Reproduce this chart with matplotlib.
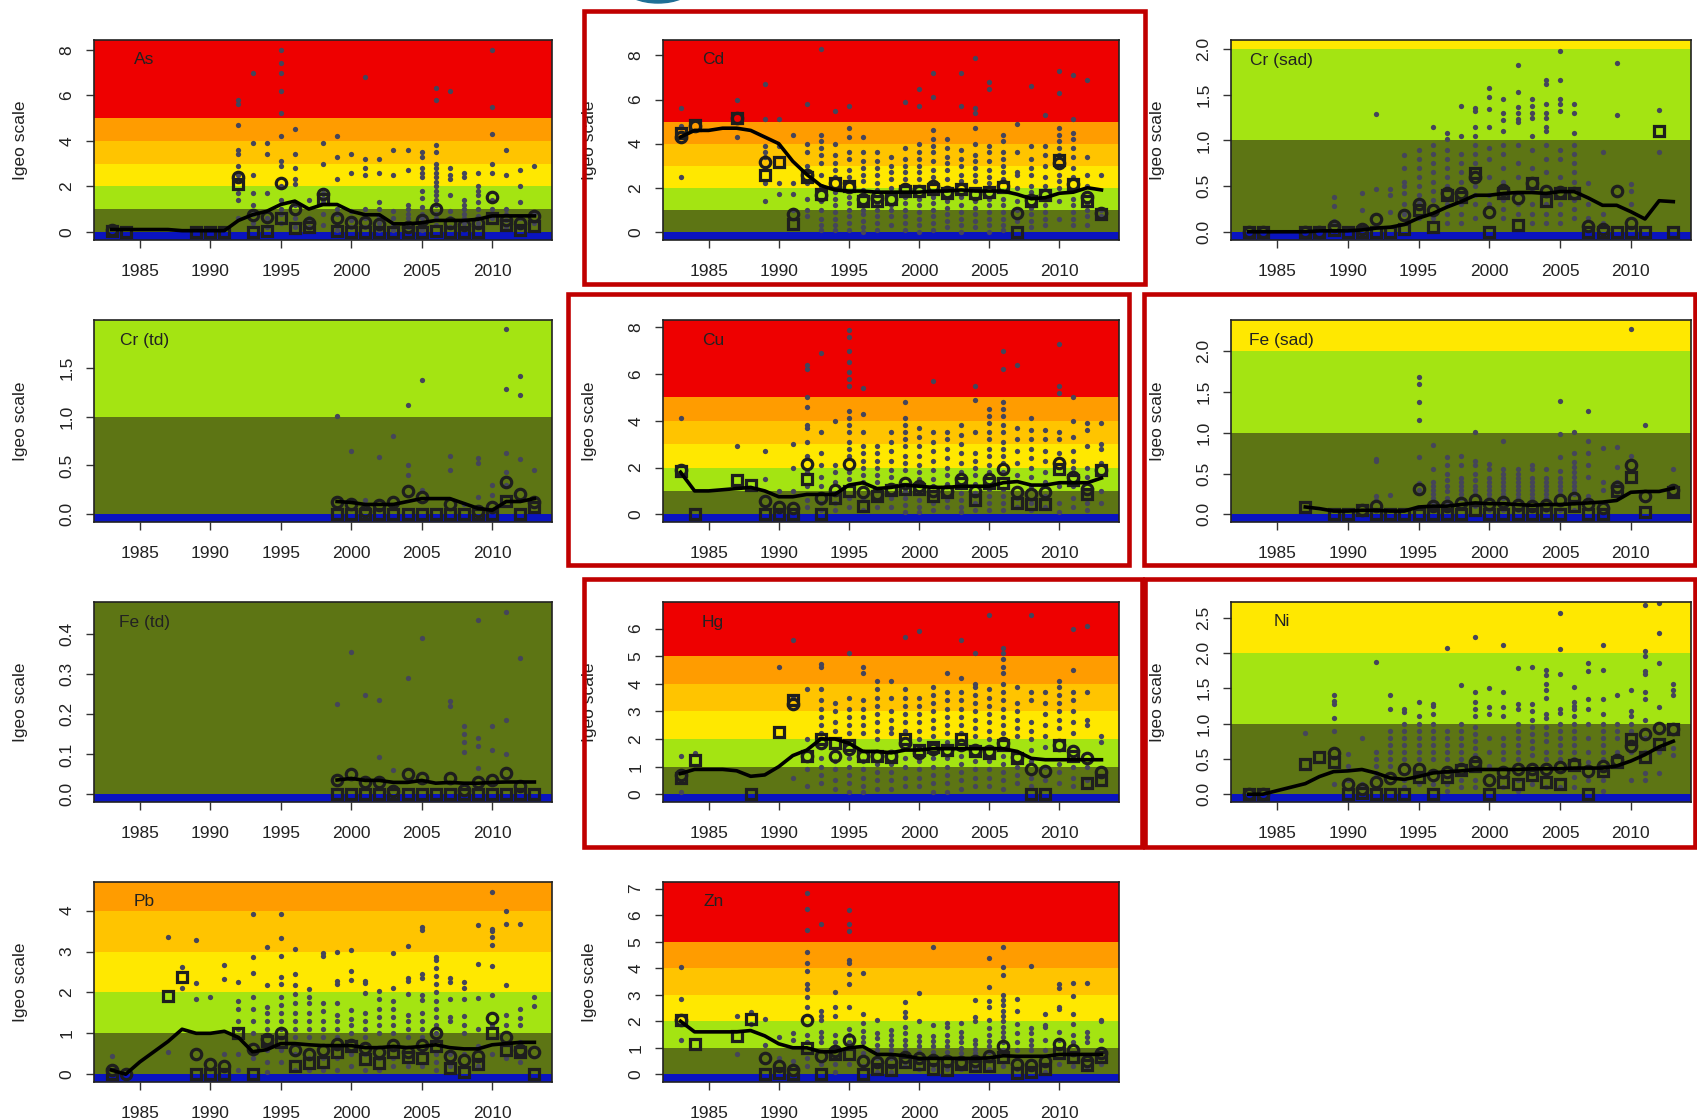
import matplotlib.pyplot as plt
from matplotlib.patches import Rectangle, Ellipse

plt.rcParams['font.family'] = ['Liberation Sans', 'DejaVu Sans']

W, H = 1697, 1119
x_ticks = [1985, 1990, 1995, 2000, 2005, 2010]

# Igeo classes: edges and colours (blue <0 ... red >5)
band_edges = [-100, 0, 1, 2, 3, 4, 5, 100]
band_colors = ['#0a14c0', '#5d7514', '#a4e412', '#ffe800', '#ffc400', '#ff9c00', '#ee0000']

# ---------------- As ----------------
as_line = {1983: 0.1, 1984: 0.1, 1985: 0.1, 1986: 0.1, 1987: 0.1, 1988: 0.05, 1989: 0.05, 1990: 0.05,
           1991: 0.05, 1992: 0.5, 1993: 0.75, 1994: 0.9, 1995: 1.2, 1996: 1.35, 1997: 1.0, 1998: 1.2,
           1999: 1.2, 2000: 0.9, 2001: 0.75, 2002: 0.75, 2003: 0.35, 2004: 0.35, 2005: 0.4, 2006: 0.5,
           2007: 0.5, 2008: 0.5, 2009: 0.55, 2010: 0.7, 2011: 0.7, 2012: 0.7, 2013: 0.7}
as_circ = {1983: 0.1, 1992: 2.4, 1993: 0.75, 1994: 0.65, 1995: 2.15, 1996: 1.0, 1997: 0.4, 1998: 1.65,
           1999: 0.6, 2000: 0.45, 2001: 0.45, 2002: 0.35, 2004: 0.2, 2005: 0.5, 2006: 1.0, 2007: 0.4,
           2008: 0.3, 2009: 0.4, 2010: 1.55, 2011: 0.5, 2012: 0.4, 2013: 0.7}
as_sq = {1983: 0.05, 1984: 0.0, 1989: 0.0, 1990: 0.0, 1991: 0.0, 1992: 2.1, 1993: 0.0, 1994: 0.05,
         1995: 0.6, 1996: 0.15, 1997: 0.2, 1998: 1.45, 1999: 0.05, 2000: 0.0, 2001: 0.0, 2002: 0.0,
         2003: 0.0, 2004: 0.0, 2005: 0.0, 2006: 0.05, 2007: 0.0, 2008: 0.0, 2009: 0.0, 2010: 0.6,
         2011: 0.3, 2012: 0.1, 2013: 0.25}
as_dots = {1992: [5.8, 5.6, 4.7, 3.6, 3.4, 2.9, 2.5, 1.7, 1.4, 0.6],
           1993: [7.0, 3.9, 2.5, 1.7, 1.2, 0.8, 0.4],
           1994: [3.9, 3.4, 1.7, 0.6, 0.2],
           1995: [8.0, 7.4, 7.0, 6.2, 5.2, 4.2, 3.1, 2.9, 2.0, 1.4, 1.0, 0.8, 0.4],
           1996: [4.5, 3.4, 2.8, 2.3, 2.1, 1.2, 0.6, 0.2],
           1997: [1.4, 0.6, 0.2],
           1998: [3.9, 3.0, 1.7, 1.5, 1.3, 0.8, 0.3],
           1999: [4.2, 3.3, 2.3, 1.0, 0.8, 0.3, 0.1],
           2000: [3.4, 2.6, 0.9, 0.5, 0.2],
           2001: [6.8, 3.2, 2.8, 2.5, 1.0, 0.6, 0.2],
           2002: [3.2, 2.6, 1.3, 1.0, 0.7, 0.4, 0.1],
           2003: [3.6, 2.5, 0.9, 0.6, 0.3, 0.1],
           2004: [3.6, 2.7, 1.2, 1.0, 0.8, 0.6, 0.4, 0.2],
           2005: [3.5, 3.3, 2.8, 2.6, 2.4, 1.8, 1.5, 1.1, 0.8, 0.6, 0.3, 0.1],
           2006: [6.3, 5.8, 3.8, 3.5, 3.0, 2.8, 2.6, 2.4, 2.2, 2.0, 1.8, 1.6, 1.4, 1.2, 0.8, 0.6, 0.3],
           2007: [6.2, 2.8, 2.5, 2.3, 1.6, 0.9, 0.6, 0.2],
           2008: [2.6, 2.4, 1.4, 1.2, 1.0, 0.8, 0.6, 0.4, 0.2],
           2009: [2.6, 2.0, 1.8, 1.6, 1.3, 1.0, 0.7, 0.4, 0.2],
           2010: [8.0, 5.5, 4.3, 3.0, 2.6, 1.4, 1.0, 0.8, 0.6],
           2011: [3.6, 2.5, 1.0, 0.8, 0.5, 0.2],
           2012: [2.7, 2.0, 1.3, 0.6, 0.2],
           2013: [2.9, 0.8, 0.4]}

# ---------------- Cd ----------------
cd_line = {1983: 4.3, 1984: 4.6, 1985: 4.6, 1986: 4.7, 1987: 4.7, 1988: 4.6, 1989: 4.3, 1990: 4.0,
           1991: 3.2, 1992: 2.6, 1993: 2.1, 1994: 1.9, 1995: 1.85, 1996: 1.85, 1997: 1.8, 1998: 1.8,
           1999: 1.8, 2000: 1.8, 2001: 1.85, 2002: 1.85, 2003: 1.9, 2004: 1.85, 2005: 1.85, 2006: 1.85,
           2007: 1.7, 2008: 1.5, 2009: 1.55, 2010: 1.75, 2011: 1.8, 2012: 2.0, 2013: 1.9}
cd_circ = {1983: 4.3, 1984: 4.8, 1987: 5.15, 1989: 3.15, 1991: 0.8, 1992: 2.6, 1993: 1.65, 1994: 2.2,
           1995: 2.05, 1996: 1.5, 1997: 1.6, 1998: 1.5, 1999: 1.95, 2000: 1.85, 2001: 2.1, 2002: 1.8,
           2003: 1.95, 2004: 1.7, 2005: 1.8, 2006: 2.1, 2007: 0.85, 2008: 1.45, 2009: 1.65, 2010: 3.1,
           2011: 2.15, 2012: 1.6, 2013: 0.85}
cd_sq = {1983: 4.5, 1984: 4.85, 1987: 5.15, 1989: 2.6, 1990: 3.15, 1991: 0.35, 1992: 2.5, 1993: 1.7,
         1994: 2.2, 1995: 2.1, 1996: 1.4, 1997: 1.4, 1998: 1.5, 1999: 1.85, 2000: 1.85, 2001: 1.95,
         2002: 1.75, 2003: 1.95, 2004: 1.75, 2005: 1.8, 2006: 2.05, 2007: 0.0, 2008: 1.4, 2009: 1.65,
         2010: 3.25, 2011: 2.15, 2012: 1.4, 2013: 0.8}
cd_dots = {1983: [5.6, 4.8, 2.5],
           1987: [6.0, 4.3],
           1989: [6.7, 5.1, 3.9, 3.6, 3.4, 2.9, 2.2, 1.4],
           1990: [5.1, 3.9, 2.2, 1.7],
           1991: [4.4, 2.2, 1.7, 1.0],
           1992: [5.8, 4.0, 3.6, 3.0, 2.2, 1.5, 1.0, 0.7],
           1993: [8.3, 4.4, 4.1, 3.8, 3.5, 3.1, 2.6, 2.1, 1.4, 1.0, 0.6, 0.3, 0.1],
           1994: [5.5, 4.0, 3.5, 3.1, 2.8, 2.5, 1.8, 1.5, 1.2, 0.9, 0.6, 0.3, 0.1],
           1995: [5.7, 4.7, 4.3, 3.6, 3.3, 2.8, 2.5, 1.6, 1.3, 1.0, 0.7, 0.4, 0.1],
           1996: [4.3, 3.6, 3.2, 2.9, 2.6, 2.3, 1.9, 1.2, 1.0, 0.8, 0.5, 0.2, 0.0],
           1997: [3.6, 3.2, 2.9, 2.6, 2.2, 1.9, 1.2, 1.0, 0.7, 0.4, 0.1],
           1998: [3.4, 3.0, 2.7, 2.4, 2.0, 1.2, 1.0, 0.7, 0.3],
           1999: [5.9, 3.8, 3.3, 3.0, 2.7, 2.4, 1.6, 1.3, 1.0, 0.7, 0.4, 0.1],
           2000: [6.5, 5.7, 4.0, 3.6, 3.3, 3.0, 2.7, 2.4, 1.5, 1.2, 0.9, 0.6, 0.3, 0.0],
           2001: [7.2, 6.1, 4.6, 4.2, 3.9, 3.6, 3.2, 2.8, 2.5, 1.6, 1.3, 1.0, 0.7, 0.4, 0.1],
           2002: [4.2, 3.8, 3.4, 3.1, 2.8, 2.4, 1.4, 1.1, 0.8, 0.5, 0.2],
           2003: [7.2, 5.7, 3.7, 3.3, 3.0, 2.6, 2.3, 1.6, 1.2, 0.9, 0.6, 0.3, 0.0],
           2004: [7.9, 5.6, 5.4, 4.7, 4.0, 3.5, 3.2, 2.9, 2.6, 2.3, 1.4, 1.1, 0.8, 0.5, 0.2],
           2005: [6.8, 6.5, 3.9, 3.6, 3.2, 2.8, 2.5, 2.2, 1.5, 1.2, 0.9, 0.6, 0.3, 0.0],
           2006: [4.4, 4.1, 3.6, 3.3, 3.0, 2.7, 2.4, 1.5, 1.2, 0.9, 0.6, 0.3, 0.1],
           2007: [4.9, 3.6, 2.7, 2.6, 2.0, 1.4, 1.0, 0.5],
           2008: [6.6, 3.9, 3.3, 2.9, 2.6, 2.1, 1.8, 1.1, 0.8, 0.5, 0.2],
           2009: [5.3, 3.9, 3.5, 3.0, 2.5, 2.1, 1.2, 0.9, 0.6, 0.3],
           2010: [7.3, 6.3, 4.7, 4.4, 4.1, 3.8, 3.5, 2.6, 2.3, 2.0, 1.4, 0.6],
           2011: [7.1, 5.1, 4.5, 4.2, 3.8, 3.4, 2.9, 2.5, 1.5, 1.2, 0.9, 0.6, 0.3],
           2012: [6.9, 3.4, 2.6, 2.1, 1.3, 1.0, 0.7, 0.3],
           2013: [2.6, 1.0, 0.7]}

# ---------------- Cr (sad) ----------------
crs_line = {1983: 0.0, 1984: 0.0, 1985: 0.0, 1986: 0.0, 1987: 0.0, 1988: 0.01, 1989: 0.01, 1990: 0.01,
            1991: 0.02, 1992: 0.04, 1993: 0.05, 1994: 0.08, 1995: 0.15, 1996: 0.2, 1997: 0.27, 1998: 0.33,
            1999: 0.4, 2000: 0.4, 2001: 0.42, 2002: 0.43, 2003: 0.43, 2004: 0.42, 2005: 0.44, 2006: 0.44,
            2007: 0.37, 2008: 0.29, 2009: 0.29, 2010: 0.22, 2011: 0.14, 2012: 0.34, 2013: 0.33}
crs_circ = {1983: 0.0, 1984: 0.0, 1987: 0.0, 1988: 0.0, 1989: 0.06, 1991: 0.03, 1992: 0.14, 1994: 0.18,
            1995: 0.3, 1996: 0.24, 1997: 0.42, 1998: 0.42, 1999: 0.6, 2000: 0.22, 2001: 0.46, 2002: 0.37,
            2003: 0.53, 2004: 0.45, 2005: 0.44, 2006: 0.42, 2007: 0.06, 2008: 0.03, 2009: 0.45, 2010: 0.1}
crs_sq = {1983: 0.0, 1984: 0.0, 1987: 0.0, 1988: 0.0, 1989: 0.02, 1990: 0.0, 1991: 0.0, 1992: 0.0,
          1993: 0.0, 1994: 0.03, 1995: 0.24, 1996: 0.05, 1997: 0.4, 1998: 0.38, 1999: 0.64, 2000: 0.0,
          2001: 0.42, 2002: 0.07, 2003: 0.53, 2004: 0.34, 2005: 0.42, 2006: 0.42, 2007: 0.0, 2008: 0.0,
          2009: 0.0, 2010: 0.0, 2011: 0.0, 2012: 1.1, 2013: 0.0}
crs_dots = {1989: [0.38, 0.28, 0.12],
            1991: [0.43, 0.24],
            1992: [1.29, 0.47],
            1993: [0.47, 0.4, 0.22],
            1994: [0.84, 0.7, 0.55, 0.5, 0.42, 0.3, 0.2],
            1995: [0.9, 0.8, 0.7, 0.6, 0.5, 0.4, 0.32, 0.15],
            1996: [1.15, 0.95, 0.85, 0.75, 0.65, 0.55, 0.45, 0.35, 0.15],
            1997: [1.08, 1.02, 0.9, 0.8, 0.7, 0.6, 0.5, 0.3, 0.2, 0.1],
            1998: [1.38, 1.05, 0.85, 0.75, 0.65, 0.55, 0.3, 0.2, 0.1],
            1999: [1.36, 1.32, 1.15, 1.05, 0.95, 0.85, 0.75, 0.5, 0.4, 0.3, 0.15],
            2000: [1.57, 1.48, 1.34, 1.15, 0.92, 0.8, 0.6, 0.4, 0.3],
            2001: [1.45, 1.3, 1.22, 1.1, 0.95, 0.85, 0.7, 0.55, 0.35, 0.25, 0.15],
            2002: [1.83, 1.53, 1.37, 1.3, 1.23, 1.2, 0.95, 0.75, 0.6, 0.3, 0.2],
            2003: [1.45, 1.38, 1.3, 1.25, 1.05, 0.9, 0.7, 0.45, 0.3, 0.2, 0.1],
            2004: [1.66, 1.62, 1.4, 1.3, 1.25, 1.15, 1.1, 0.95, 0.8, 0.65, 0.3, 0.2, 0.1],
            2005: [1.98, 1.66, 1.45, 1.4, 1.32, 0.9, 0.8, 0.6, 0.3, 0.2, 0.1],
            2006: [1.4, 1.3, 1.08, 0.95, 0.85, 0.75, 0.65, 0.55, 0.35, 0.25, 0.15],
            2007: [0.53, 0.3, 0.15],
            2008: [0.87, 0.2, 0.1],
            2009: [1.85, 1.28],
            2010: [0.52, 0.45, 0.3],
            2012: [1.33, 0.87]}

# ---------------- Cr (td) ----------------
crt_line = {1999: 0.13, 2000: 0.12, 2001: 0.1, 2002: 0.1, 2003: 0.1, 2004: 0.13, 2005: 0.16, 2006: 0.16,
            2007: 0.16, 2008: 0.11, 2009: 0.06, 2010: 0.04, 2011: 0.13, 2012: 0.13, 2013: 0.16}
crt_circ = {1999: 0.13, 2000: 0.1, 2001: 0.03, 2002: 0.09, 2003: 0.13, 2004: 0.24, 2005: 0.18, 2007: 0.1,
            2009: 0.03, 2010: 0.07, 2011: 0.33, 2012: 0.21, 2013: 0.12}
crt_sq = {1999: 0.0, 2000: 0.0, 2001: 0.0, 2002: 0.0, 2003: 0.0, 2004: 0.0, 2005: 0.0, 2006: 0.0,
          2007: 0.0, 2008: 0.0, 2009: 0.0, 2010: 0.0, 2011: 0.14, 2012: 0.0, 2013: 0.07}
crt_dots = {1999: [1.01], 2000: [0.65], 2001: [0.15], 2002: [0.59], 2003: [0.8],
            2004: [1.12, 0.5, 0.4], 2005: [1.38, 0.25], 2007: [0.6, 0.45], 2008: [0.1],
            2009: [0.58, 0.52, 0.18], 2010: [0.3, 0.2], 2011: [1.9, 1.28, 0.63, 0.43, 0.3],
            2012: [1.42, 1.22, 0.57], 2013: [0.45]}

# ---------------- Cu ----------------
cu_line = {1983: 1.8, 1984: 1.0, 1985: 1.0, 1986: 1.05, 1987: 1.1, 1988: 1.15, 1989: 1.0, 1990: 0.75,
           1991: 0.75, 1992: 0.85, 1993: 0.85, 1994: 0.85, 1995: 1.25, 1996: 1.35, 1997: 1.1, 1998: 1.15,
           1999: 1.25, 2000: 1.2, 2001: 1.15, 2002: 1.15, 2003: 1.2, 2004: 1.2, 2005: 1.2, 2006: 1.35,
           2007: 1.4, 2008: 1.25, 2009: 1.25, 2010: 1.35, 2011: 1.35, 2012: 1.35, 2013: 1.55}
cu_circ = {1983: 1.9, 1989: 0.55, 1990: 0.3, 1991: 0.25, 1992: 2.15, 1993: 0.7, 1994: 1.05, 1995: 2.15,
           1996: 0.95, 1997: 0.85, 1998: 1.1, 1999: 1.35, 2000: 1.2, 2001: 1.0, 2002: 1.0, 2003: 1.5,
           2004: 1.0, 2005: 1.5, 2006: 1.95, 2007: 0.95, 2008: 0.85, 2009: 0.95, 2010: 2.2, 2011: 1.6,
           2012: 1.1, 2013: 1.9}
cu_sq = {1983: 1.85, 1984: 0.0, 1987: 1.45, 1988: 1.25, 1989: 0.0, 1990: 0.0, 1991: 0.0, 1992: 1.5,
         1993: 0.0, 1994: 0.7, 1995: 1.0, 1996: 0.35, 1997: 0.8, 1998: 1.05, 1999: 1.1, 2000: 1.1,
         2001: 0.8, 2002: 0.95, 2003: 1.35, 2004: 0.6, 2005: 1.35, 2006: 1.35, 2007: 0.5, 2008: 0.45,
         2009: 0.45, 2010: 1.95, 2011: 1.45, 2012: 0.85, 2013: 1.9}
cu_dots = {1983: [4.1], 1987: [2.9], 1989: [2.7, 1.5], 1990: [1.0], 1991: [3.0, 2.0, 1.0],
           1992: [6.4, 6.2, 5.0, 4.6, 3.8, 3.7, 3.1, 2.5, 1.8, 1.2, 0.6, 0.3],
           1993: [6.9, 3.5, 2.6, 2.1, 1.6, 1.2, 0.5, 0.2],
           1994: [4.0, 2.1, 1.8, 1.4, 0.9, 0.5, 0.2],
           1995: [7.9, 7.6, 7.0, 6.5, 6.1, 5.8, 5.5, 4.4, 4.1, 3.8, 3.5, 3.1, 2.8, 2.5, 1.8, 1.5, 0.7, 0.3],
           1996: [5.4, 4.3, 3.5, 2.9, 2.6, 2.3, 2.0, 1.7, 1.4, 0.7, 0.2],
           1997: [2.9, 2.6, 2.3, 2.0, 1.7, 1.4, 0.6, 0.3],
           1998: [3.5, 3.1, 2.7, 2.3, 1.9, 1.6, 0.7, 0.3],
           1999: [4.8, 4.1, 3.8, 3.5, 3.2, 2.9, 2.5, 2.2, 1.9, 1.0, 0.7, 0.4, 0.1],
           2000: [3.7, 3.3, 2.9, 2.5, 2.1, 1.8, 1.5, 0.9, 0.6, 0.3, 0.1],
           2001: [5.7, 3.5, 3.1, 2.7, 2.3, 1.9, 1.5, 1.2, 0.5, 0.2],
           2002: [3.5, 3.2, 2.8, 2.4, 2.0, 1.7, 1.3, 0.6, 0.3],
           2003: [3.8, 3.4, 3.0, 2.6, 2.2, 1.8, 0.9, 0.6, 0.3, 0.1],
           2004: [5.5, 4.9, 3.5, 2.6, 2.3, 2.0, 1.7, 1.3, 0.9, 0.5, 0.2],
           2005: [4.5, 4.2, 3.9, 3.5, 3.2, 2.8, 2.5, 2.1, 1.8, 1.1, 0.8, 0.5, 0.2],
           2006: [7.0, 6.2, 4.8, 4.5, 4.2, 3.8, 3.5, 3.1, 2.8, 2.5, 2.2, 1.8, 1.1, 0.8, 0.5, 0.2],
           2007: [6.4, 3.7, 3.2, 2.7, 2.2, 1.7, 0.7, 0.3],
           2008: [4.1, 3.6, 3.2, 2.8, 2.4, 2.0, 1.6, 1.2, 0.5, 0.2],
           2009: [3.6, 3.2, 2.7, 2.3, 1.8, 1.4, 0.8, 0.3],
           2010: [7.3, 5.5, 5.2, 3.5, 3.2, 2.6, 1.2, 0.5, 0.1],
           2011: [5.0, 4.0, 3.3, 2.7, 2.3, 2.0, 1.2, 0.7, 0.3],
           2012: [3.9, 3.6, 2.9, 2.0, 1.6, 0.5, 0.2],
           2013: [3.9, 3.0, 2.8, 2.2, 1.0, 0.5]}

# ---------------- Fe (sad) ----------------
fes_line = {1987: 0.09, 1988: 0.07, 1989: 0.04, 1990: 0.04, 1991: 0.05, 1992: 0.05, 1993: 0.04, 1994: 0.04,
            1995: 0.09, 1996: 0.1, 1997: 0.1, 1998: 0.12, 1999: 0.14, 2000: 0.13, 2001: 0.13, 2002: 0.12,
            2003: 0.11, 2004: 0.12, 2005: 0.12, 2006: 0.13, 2007: 0.14, 2008: 0.15, 2009: 0.17, 2010: 0.27,
            2011: 0.28, 2012: 0.28, 2013: 0.32}
fes_circ = {1991: 0.05, 1992: 0.1, 1995: 0.31, 1996: 0.1, 1997: 0.1, 1998: 0.14, 1999: 0.18, 2000: 0.13,
            2001: 0.15, 2002: 0.12, 2003: 0.1, 2004: 0.11, 2005: 0.18, 2006: 0.2, 2007: 0.13, 2008: 0.08,
            2009: 0.33, 2010: 0.6, 2011: 0.22, 2013: 0.3}
fes_sq = {1987: 0.09, 1989: 0.0, 1990: 0.0, 1991: 0.05, 1992: 0.0, 1993: 0.0, 1994: 0.0, 1995: 0.0,
          1996: 0.0, 1997: 0.0, 1998: 0.0, 1999: 0.05, 2000: 0.0, 2001: 0.0, 2002: 0.0, 2003: 0.0,
          2004: 0.0, 2005: 0.0, 2006: 0.1, 2007: 0.0, 2008: 0.0, 2009: 0.28, 2010: 0.46, 2011: 0.03,
          2013: 0.27}
fes_dots = {1992: [0.68, 0.65, 0.22, 0.18], 1993: [0.24],
            1995: [1.68, 1.6, 1.37, 1.16, 0.7, 0.38, 0.3],
            1996: [0.85, 0.56, 0.4, 0.35, 0.3, 0.25, 0.2, 0.15],
            1997: [0.7, 0.6, 0.5, 0.42, 0.35, 0.28, 0.2, 0.15],
            1998: [0.72, 0.6, 0.45, 0.4, 0.35, 0.3, 0.25, 0.2],
            1999: [1.01, 0.65, 0.6, 0.5, 0.42, 0.35, 0.3, 0.25, 0.1],
            2000: [0.62, 0.55, 0.45, 0.4, 0.35, 0.3, 0.25, 0.2, 0.05],
            2001: [0.9, 0.55, 0.5, 0.45, 0.4, 0.35, 0.3, 0.25, 0.2, 0.05],
            2002: [0.56, 0.5, 0.45, 0.4, 0.35, 0.3, 0.25, 0.2, 0.05],
            2003: [0.6, 0.55, 0.45, 0.4, 0.35, 0.3, 0.25, 0.2],
            2004: [0.55, 0.45, 0.4, 0.35, 0.3, 0.25, 0.2, 0.05],
            2005: [1.39, 0.98, 0.7, 0.53, 0.45, 0.4, 0.35, 0.3, 0.25, 0.05],
            2006: [1.01, 0.75, 0.64, 0.58, 0.52, 0.46, 0.4, 0.35, 0.3, 0.25, 0.05],
            2007: [1.27, 0.9, 0.75, 0.6, 0.46, 0.22],
            2008: [0.81, 0.4, 0.3], 2009: [0.83, 0.58, 0.4], 2010: [2.27, 0.72],
            2011: [1.09], 2013: [0.56]}

# ---------------- Fe (td) ----------------
fet_line = {1999: 0.036, 2000: 0.04, 2001: 0.035, 2002: 0.035, 2003: 0.03, 2004: 0.03, 2005: 0.035,
            2006: 0.028, 2007: 0.03, 2008: 0.028, 2009: 0.028, 2010: 0.03, 2011: 0.031, 2012: 0.031,
            2013: 0.031}
fet_circ = {1999: 0.036, 2000: 0.05, 2001: 0.03, 2002: 0.032, 2003: 0.008, 2004: 0.05, 2005: 0.04,
            2007: 0.04, 2008: 0.01, 2009: 0.03, 2010: 0.035, 2011: 0.053, 2012: 0.02}
fet_sq = {1999: 0.0, 2000: 0.0, 2001: 0.0, 2002: 0.0, 2003: 0.0, 2004: 0.0, 2005: 0.0, 2006: 0.0,
          2007: 0.0, 2008: 0.0, 2009: 0.0, 2010: 0.0, 2011: 0.0, 2012: 0.0, 2013: 0.0}
fet_dots = {1999: [0.225], 2000: [0.355], 2001: [0.248], 2002: [0.235, 0.093], 2003: [0.06],
            2004: [0.29], 2005: [0.39], 2007: [0.233, 0.222], 2008: [0.17, 0.15, 0.13, 0.105],
            2009: [0.435, 0.14, 0.12, 0.065], 2010: [0.17, 0.11], 2011: [0.455, 0.185, 0.1],
            2012: [0.34]}

# ---------------- Hg ----------------
hg_line = {1983: 0.75, 1984: 0.9, 1985: 0.9, 1986: 0.9, 1987: 0.85, 1988: 0.65, 1989: 0.7, 1990: 1.0,
           1991: 1.4, 1992: 1.6, 1993: 2.0, 1994: 2.0, 1995: 1.85, 1996: 1.55, 1997: 1.55, 1998: 1.5,
           1999: 1.6, 2000: 1.6, 2001: 1.65, 2002: 1.65, 2003: 1.65, 2004: 1.65, 2005: 1.65, 2006: 1.65,
           2007: 1.55, 2008: 1.3, 2009: 1.25, 2010: 1.25, 2011: 1.25, 2012: 1.25, 2013: 1.25}
hg_circ = {1983: 0.7, 1991: 3.25, 1992: 1.4, 1993: 1.85, 1994: 1.4, 1995: 1.65, 1996: 1.4, 1997: 1.4,
           1998: 1.4, 1999: 1.85, 2000: 1.5, 2001: 1.65, 2002: 1.6, 2003: 1.8, 2004: 1.6, 2005: 1.55,
           2006: 1.85, 2007: 1.35, 2008: 0.9, 2009: 0.85, 2010: 1.8, 2011: 1.55, 2012: 1.3, 2013: 0.8}
hg_sq = {1983: 0.6, 1984: 1.25, 1988: 0.0, 1990: 2.25, 1991: 3.4, 1992: 1.4, 1993: 2.0, 1994: 1.85,
         1995: 1.8, 1996: 1.4, 1997: 1.4, 1998: 1.35, 1999: 2.0, 2000: 1.6, 2001: 1.7, 2002: 1.6,
         2003: 2.0, 2004: 1.55, 2005: 1.5, 2006: 1.8, 2007: 1.3, 2008: 0.0, 2009: 0.0, 2010: 1.8,
         2011: 1.4, 2012: 0.4, 2013: 0.5}
hg_dots = {1983: [1.4, 0.1], 1984: [1.5], 1990: [4.6], 1991: [5.6, 3.5, 0.6],
           1992: [3.8, 2.0, 0.9, 0.3],
           1993: [4.7, 4.6, 3.8, 3.4, 3.1, 2.8, 2.5, 2.2, 1.3, 1.0, 0.7, 0.4],
           1994: [3.3, 3.0, 2.6, 2.3, 1.6, 1.2, 0.9, 0.5, 0.2],
           1995: [5.1, 3.5, 3.1, 2.8, 2.5, 2.2, 1.3, 1.0, 0.7, 0.4, 0.1],
           1996: [4.6, 4.4, 3.4, 3.1, 2.8, 2.5, 2.2, 1.2, 0.9, 0.6, 0.3, 0.1],
           1997: [4.1, 3.8, 3.5, 3.2, 2.9, 2.6, 2.3, 2.0, 1.1, 0.8, 0.5, 0.2],
           1998: [4.1, 3.5, 3.0, 2.7, 2.4, 2.2, 1.1, 0.8, 0.5, 0.2],
           1999: [5.7, 3.8, 3.5, 3.2, 2.9, 2.6, 2.3, 1.3, 1.0, 0.6, 0.3],
           2000: [5.9, 3.5, 3.2, 2.9, 2.6, 2.3, 2.0, 1.2, 0.9, 0.6, 0.3],
           2001: [3.9, 3.6, 3.3, 3.0, 2.7, 2.4, 2.1, 1.3, 1.0, 0.7, 0.4, 0.1],
           2002: [4.4, 3.7, 3.4, 3.1, 2.8, 2.5, 2.2, 1.9, 1.3, 1.0, 0.7, 0.4, 0.1],
           2003: [5.6, 4.2, 3.7, 3.4, 3.1, 2.8, 2.5, 2.2, 1.4, 1.1, 0.8, 0.5, 0.2],
           2004: [5.1, 4.0, 3.9, 3.6, 3.3, 3.0, 2.7, 2.4, 2.1, 1.2, 0.9, 0.6, 0.3],
           2005: [6.5, 3.8, 3.5, 3.2, 2.9, 2.6, 2.3, 2.0, 1.2, 0.9, 0.6, 0.3],
           2006: [5.3, 5.1, 4.9, 4.6, 4.4, 4.0, 3.7, 3.4, 3.1, 2.8, 2.5, 2.2, 1.4, 1.1, 0.8, 0.5, 0.2],
           2007: [3.9, 3.3, 3.0, 2.7, 2.4, 2.1, 1.0, 0.7, 0.4],
           2008: [6.5, 3.7, 3.4, 2.6, 2.3, 2.0, 1.6, 1.2, 0.6, 0.3],
           2009: [3.7, 3.3, 2.9, 2.5, 2.1, 1.7, 1.0, 0.5],
           2010: [4.1, 3.9, 3.6, 3.3, 3.0, 2.7, 2.4, 1.1, 0.8, 0.4],
           2011: [6.0, 4.5, 3.7, 3.4, 3.0, 2.6, 2.2, 1.0, 0.6, 0.3],
           2012: [6.1, 3.7, 2.7, 2.5, 1.0, 0.5],
           2013: [2.1, 1.9]}

# ---------------- Ni ----------------
ni_line = {1983: 0.0, 1984: 0.0, 1985: 0.05, 1986: 0.1, 1987: 0.15, 1988: 0.25, 1989: 0.32, 1990: 0.33,
           1991: 0.35, 1992: 0.3, 1993: 0.23, 1994: 0.21, 1995: 0.25, 1996: 0.3, 1997: 0.32, 1998: 0.33,
           1999: 0.35, 2000: 0.35, 2001: 0.35, 2002: 0.35, 2003: 0.36, 2004: 0.36, 2005: 0.36, 2006: 0.37,
           2007: 0.37, 2008: 0.37, 2009: 0.4, 2010: 0.47, 2011: 0.56, 2012: 0.67, 2013: 0.75}
ni_circ = {1983: 0.0, 1984: 0.0, 1989: 0.58, 1990: 0.14, 1991: 0.08, 1992: 0.18, 1993: 0.23, 1994: 0.35,
           1995: 0.35, 1996: 0.27, 1997: 0.32, 1998: 0.36, 1999: 0.45, 2000: 0.2, 2001: 0.32, 2002: 0.35,
           2003: 0.36, 2004: 0.35, 2005: 0.38, 2006: 0.43, 2007: 0.33, 2008: 0.4, 2009: 0.48, 2010: 0.68,
           2011: 0.85, 2012: 0.94, 2013: 0.93}
ni_sq = {1983: 0.0, 1984: 0.0, 1987: 0.43, 1988: 0.53, 1989: 0.46, 1990: 0.0, 1991: 0.02, 1992: 0.0,
         1993: 0.0, 1994: 0.0, 1995: 0.25, 1996: 0.0, 1997: 0.25, 1998: 0.34, 1999: 0.4, 2000: 0.0,
         2001: 0.18, 2002: 0.14, 2003: 0.27, 2004: 0.18, 2005: 0.15, 2006: 0.42, 2007: 0.0, 2008: 0.33,
         2009: 0.45, 2010: 0.78, 2011: 0.53, 2012: 0.71, 2013: 0.92}
ni_dots = {1987: [0.87], 1989: [1.41, 1.32, 1.27, 1.08, 0.9, 0.15], 1990: [0.57, 0.4, 0.2],
           1991: [0.79, 0.15], 1992: [1.87, 0.6, 0.5, 0.4, 0.3],
           1993: [1.41, 1.2, 0.9, 0.8, 0.7, 0.6, 0.5, 0.4],
           1994: [1.21, 1.16, 1.0, 0.9, 0.8, 0.7, 0.6, 0.5, 0.2, 0.1],
           1995: [1.3, 1.1, 1.0, 0.9, 0.8, 0.7, 0.6, 0.5, 0.15],
           1996: [1.27, 1.25, 1.13, 1.0, 0.9, 0.8, 0.7, 0.6, 0.5, 0.15],
           1997: [2.07, 0.9, 0.8, 0.7, 0.6, 0.5, 0.15, 0.05],
           1998: [1.54, 1.0, 0.9, 0.8, 0.7, 0.6, 0.5, 0.2, 0.1],
           1999: [2.23, 1.45, 1.3, 1.2, 1.1, 0.95, 0.85, 0.75, 0.65, 0.55, 0.2, 0.1],
           2000: [1.5, 1.23, 1.13, 0.8, 0.6, 0.4],
           2001: [2.11, 1.44, 1.24, 1.1, 0.8, 0.7, 0.6, 0.5, 0.1],
           2002: [1.78, 1.27, 1.2, 1.0, 0.9, 0.8, 0.7, 0.6, 0.5, 0.2, 0.05],
           2003: [1.8, 1.27, 1.18, 1.05, 0.95, 0.85, 0.75, 0.65, 0.55, 0.15],
           2004: [1.76, 1.68, 1.56, 1.47, 1.36, 1.13, 1.08, 0.95, 0.85, 0.75, 0.6, 0.5, 0.1],
           2005: [2.57, 2.05, 1.7, 1.2, 1.15, 1.0, 0.9, 0.8, 0.7, 0.6, 0.5, 0.1],
           2006: [1.52, 1.3, 1.25, 1.2, 1.1, 1.0, 0.9, 0.8, 0.7, 0.6, 0.5, 0.25, 0.1],
           2007: [1.85, 1.74, 1.35, 1.2, 1.0, 0.8, 0.6, 0.45, 0.2],
           2008: [2.11, 1.76, 1.35, 1.13, 1.0, 0.9, 0.8, 0.7, 0.6, 0.5, 0.2, 0.05],
           2009: [1.4, 1.0, 0.9, 0.8, 0.6],
           2010: [1.48, 1.18, 1.1, 1.0, 0.9, 0.6, 0.2],
           2011: [2.68, 2.02, 1.95, 1.75, 1.7, 1.45, 1.35, 1.05, 0.8, 0.6, 0.3, 0.2],
           2012: [2.7, 2.28, 1.85, 1.23, 0.6, 0.3],
           2013: [1.56, 1.48, 1.4, 0.65, 0.55]}

# ---------------- Pb ----------------
pb_line = {1983: 0.1, 1984: 0.0, 1985: 0.3, 1986: 0.55, 1987: 0.8, 1988: 1.1, 1989: 1.0, 1990: 1.0,
           1991: 1.05, 1992: 0.9, 1993: 0.55, 1994: 0.6, 1995: 0.75, 1996: 0.75, 1997: 0.72, 1998: 0.7,
           1999: 0.7, 2000: 0.7, 2001: 0.65, 2002: 0.65, 2003: 0.68, 2004: 0.65, 2005: 0.68, 2006: 0.72,
           2007: 0.65, 2008: 0.62, 2009: 0.62, 2010: 0.72, 2011: 0.75, 2012: 0.78, 2013: 0.78}
pb_circ = {1983: 0.1, 1984: 0.0, 1989: 0.5, 1990: 0.25, 1991: 0.2, 1993: 0.62, 1994: 0.85, 1995: 1.0,
           1996: 0.6, 1997: 0.5, 1998: 0.6, 1999: 0.75, 2000: 0.72, 2001: 0.65, 2002: 0.55, 2003: 0.72,
           2004: 0.55, 2005: 0.72, 2006: 1.0, 2007: 0.45, 2008: 0.35, 2009: 0.45, 2010: 1.38, 2011: 0.92,
           2012: 0.6, 2013: 0.55}
pb_sq = {1983: 0.0, 1987: 1.92, 1988: 2.37, 1989: 0.0, 1990: 0.0, 1991: 0.0, 1992: 1.0, 1993: 0.0,
         1994: 0.82, 1995: 0.8, 1996: 0.2, 1997: 0.28, 1998: 0.3, 1999: 0.55, 2000: 0.7, 2001: 0.38,
         2002: 0.28, 2003: 0.55, 2004: 0.42, 2005: 0.4, 2006: 0.7, 2007: 0.15, 2008: 0.06, 2009: 0.25,
         2010: 1.0, 2011: 0.6, 2012: 0.55, 2013: 0.0}
pb_dots = {1983: [0.45], 1987: [3.35, 0.55], 1988: [2.62, 2.1], 1989: [3.28, 2.22, 1.83], 1990: [1.9],
           1991: [2.66, 2.33, 0.5], 1992: [2.25, 1.8, 1.6, 1.3, 1.1, 0.5, 0.1],
           1993: [3.92, 2.87, 2.47, 1.9, 1.6, 1.3, 1.0, 0.4],
           1994: [3.1, 2.18, 1.65, 1.5, 1.3, 1.1, 0.6, 0.3, 0.05],
           1995: [3.92, 3.34, 2.9, 2.37, 2.2, 1.9, 1.7, 1.5, 1.3, 1.1, 0.6, 0.3],
           1996: [3.07, 2.44, 2.18, 1.95, 1.75, 1.5, 1.3, 1.1, 0.9, 0.5, 0.1],
           1997: [2.08, 1.9, 1.75, 1.5, 1.3, 1.1, 0.9, 0.4, 0.1],
           1998: [2.96, 2.9, 1.75, 1.55, 1.3, 1.1, 0.9, 0.4, 0.1],
           1999: [3.0, 2.28, 2.2, 1.75, 1.45, 1.3, 1.1, 0.9, 0.4, 0.1],
           2000: [3.03, 2.52, 2.3, 1.57, 1.35, 1.2, 1.0, 0.5, 0.2],
           2001: [2.28, 2.22, 1.98, 1.5, 1.3, 1.1, 0.9, 0.5, 0.1],
           2002: [2.03, 1.85, 1.6, 1.4, 1.2, 1.0, 0.4, 0.1],
           2003: [2.96, 2.12, 1.8, 1.6, 1.4, 1.2, 1.0, 0.4, 0.2],
           2004: [3.13, 2.35, 2.28, 1.97, 1.45, 1.3, 1.1, 0.9, 0.2],
           2005: [3.6, 3.52, 2.45, 2.35, 1.93, 1.82, 1.5, 1.3, 1.1, 0.9, 0.2],
           2006: [2.87, 2.8, 2.6, 2.4, 2.2, 2.0, 1.8, 1.6, 1.4, 1.2, 1.0, 0.5, 0.3, 0.1],
           2007: [2.35, 2.26, 1.85, 1.4, 1.3, 0.5, 0.2],
           2008: [2.25, 2.1, 1.85, 1.43, 1.2, 1.0, 0.5, 0.2],
           2009: [3.65, 2.7, 1.87, 1.1, 0.7, 0.2],
           2010: [4.45, 3.55, 3.5, 3.35, 3.17, 2.65, 1.93, 1.2, 0.5],
           2011: [4.0, 3.68, 2.18, 1.45, 1.2, 0.4],
           2012: [3.68, 1.6, 1.38, 1.2, 0.8, 0.3],
           2013: [1.9, 1.68]}

# ---------------- Zn ----------------
zn_line = {1983: 2.0, 1984: 1.6, 1985: 1.6, 1986: 1.6, 1987: 1.6, 1988: 1.65, 1989: 1.45, 1990: 1.15,
           1991: 1.0, 1992: 1.0, 1993: 0.85, 1994: 0.85, 1995: 1.0, 1996: 1.05, 1997: 0.75, 1998: 0.75,
           1999: 0.7, 2000: 0.6, 2001: 0.6, 2002: 0.6, 2003: 0.6, 2004: 0.6, 2005: 0.62, 2006: 0.7,
           2007: 0.68, 2008: 0.68, 2009: 0.68, 2010: 0.75, 2011: 0.75, 2012: 0.75, 2013: 0.75}
zn_circ = {1983: 2.05, 1989: 0.6, 1990: 0.3, 1991: 0.15, 1992: 2.05, 1993: 0.7, 1994: 0.88, 1995: 1.3,
           1996: 0.52, 1997: 0.45, 1998: 0.45, 1999: 0.65, 2000: 0.6, 2001: 0.55, 2002: 0.5, 2003: 0.45,
           2004: 0.5, 2005: 0.7, 2006: 1.05, 2007: 0.4, 2008: 0.35, 2009: 0.5, 2010: 1.15, 2011: 0.9,
           2012: 0.5, 2013: 0.8}
zn_sq = {1983: 2.05, 1984: 1.15, 1987: 1.45, 1988: 2.1, 1989: 0.0, 1990: 0.05, 1991: 0.0, 1992: 1.0,
         1993: 0.0, 1994: 0.75, 1995: 0.75, 1996: 0.0, 1997: 0.2, 1998: 0.15, 1999: 0.45, 2000: 0.4,
         2001: 0.2, 2002: 0.15, 2003: 0.4, 2004: 0.3, 2005: 0.3, 2006: 0.65, 2007: 0.05, 2008: 0.1,
         2009: 0.2, 2010: 0.8, 2011: 0.65, 2012: 0.35, 2013: 0.65}
zn_dots = {1983: [4.05, 2.85, 1.3], 1987: [2.2, 0.75], 1988: [2.35, 1.9], 1989: [2.1, 1.1],
           1990: [1.4, 0.6], 1991: [1.55, 1.3, 0.5],
           1992: [6.85, 6.25, 5.45, 4.6, 4.2, 3.9, 3.4, 3.2, 2.9, 2.55, 1.5, 1.2, 0.6, 0.3],
           1993: [5.65, 2.4, 2.2, 2.05, 1.6, 1.4, 1.2, 0.4],
           1994: [3.1, 2.55, 2.18, 1.5, 1.2, 0.4, 0.1],
           1995: [6.2, 5.65, 5.4, 4.3, 4.2, 3.78, 3.4, 2.55, 1.7, 1.5, 1.2, 0.4],
           1996: [3.83, 2.27, 1.95, 1.65, 1.4, 1.2, 0.8, 0.3],
           1997: [2.05, 1.55, 1.35, 1.1, 0.9, 0.6, 0.1],
           1998: [1.68, 1.5, 1.3, 1.1, 0.9, 0.6, 0.1],
           1999: [2.72, 2.35, 2.15, 1.8, 1.55, 1.3, 1.1, 0.9, 0.3],
           2000: [3.05, 2.0, 1.45, 1.25, 1.05, 0.85, 0.2],
           2001: [4.8, 1.85, 1.45, 1.25, 1.05, 0.85, 0.2],
           2002: [1.95, 1.8, 1.5, 1.25, 1.05, 0.85, 0.2],
           2003: [1.95, 1.6, 1.4, 1.2, 1.0, 0.8, 0.2],
           2004: [2.8, 2.15, 2.0, 1.3, 1.15, 0.95, 0.8, 0.2],
           2005: [4.4, 3.28, 2.78, 2.52, 2.05, 1.75, 1.5, 1.25, 1.05, 0.85, 0.2],
           2006: [4.8, 4.05, 3.75, 3.0, 2.8, 2.6, 2.4, 2.2, 2.0, 1.8, 1.6, 1.4, 1.2, 0.9, 0.3],
           2007: [2.85, 2.4, 1.9, 1.55, 1.2, 0.9, 0.2],
           2008: [4.1, 1.75, 1.55, 1.3, 1.1, 0.9, 0.2],
           2009: [2.28, 1.85, 1.8, 1.3, 0.9, 0.1],
           2010: [3.4, 3.25, 2.55, 2.45, 1.6, 1.3, 0.4],
           2011: [3.45, 2.95, 2.28, 1.9, 1.5, 1.2, 0.3],
           2012: [3.45, 1.6, 1.4, 1.2, 0.2],
           2013: [2.05, 2.0, 1.3, 0.4]}

# axes boxes in pixels of the 1697x1119 canvas
col_x = [(94, 552), (663, 1119), (1231, 1691)]
row_y = [(40, 240), (320, 522), (602, 802), (882, 1082)]


def draw_panel(row, col, name, line, circ, sq, dots, ylim, yticks, fmt):
    x0, x1 = col_x[col]
    y0, y1 = row_y[row]
    ax = fig.add_axes([x0 / W, 1 - y1 / H, (x1 - x0) / W, (y1 - y0) / H])
    for lo, hi, c in zip(band_edges[:-1], band_edges[1:], band_colors):
        ax.axhspan(lo, hi, color=c, lw=0, zorder=0)
    dx = [yr for yr, vals in dots.items() for v in vals]
    dy = [v for yr, vals in dots.items() for v in vals]
    ax.plot(dx, dy, 'o', ms=3.8, color='#45455a', mew=0, zorder=2)
    ax.plot(list(sq.keys()), list(sq.values()), 's', ms=7, mfc='none', mec='#1e1e1e', mew=2.3, zorder=3)
    ax.plot(list(circ.keys()), list(circ.values()), 'o', ms=7.5, mfc='none', mec='#1e1e1e', mew=2.3,
            zorder=3)
    ax.plot(list(line.keys()), list(line.values()), color='black', lw=2.6, zorder=4)
    ax.set_xlim(1981.75, 2014.25)
    ax.set_ylim(*ylim)
    ax.set_xticks(x_ticks)
    ax.set_yticks(yticks)
    ax.set_yticklabels([fmt.format(t) for t in yticks])
    ax.tick_params(axis='both', direction='out', length=6, width=1, labelsize=12.5, color='#333333',
                   labelcolor='#222222')
    ax.tick_params(axis='x', pad=11)
    ax.tick_params(axis='y', pad=8, labelrotation=90)
    for lab in ax.get_yticklabels():
        lab.set_va('center')
    for s in ax.spines.values():
        s.set_linewidth(1.2)
        s.set_color('#222222')
    ax.set_ylabel('Igeo scale', fontsize=12.5, color='#222222')
    ax.yaxis.set_label_coords(-66 / (x1 - x0), 0.5)
    ax.text(0.11, 0.9, name, transform=ax.transAxes, ha='center', va='center', fontsize=12.5,
            color='#222222', zorder=5)
    return ax


fig = plt.figure(figsize=(W / 100, H / 100), dpi=100)

draw_panel(0, 0, 'As', as_line, as_circ, as_sq, as_dots, (-0.36, 8.43), [0, 2, 4, 6, 8], '{:.0f}')
draw_panel(0, 1, 'Cd', cd_line, cd_circ, cd_sq, cd_dots, (-0.37, 8.7), [0, 2, 4, 6, 8], '{:.0f}')
draw_panel(0, 2, 'Cr (sad)', crs_line, crs_circ, crs_sq, crs_dots, (-0.09, 2.10),
           [0, 0.5, 1.0, 1.5, 2.0], '{:.1f}')
draw_panel(1, 0, 'Cr (td)', crt_line, crt_circ, crt_sq, crt_dots, (-0.08, 1.99),
           [0, 0.5, 1.0, 1.5], '{:.1f}')
draw_panel(1, 1, 'Cu', cu_line, cu_circ, cu_sq, cu_dots, (-0.33, 8.31), [0, 2, 4, 6, 8], '{:.0f}')
draw_panel(1, 2, 'Fe (sad)', fes_line, fes_circ, fes_sq, fes_dots, (-0.094, 2.38),
           [0, 0.5, 1.0, 1.5, 2.0], '{:.1f}')
draw_panel(2, 0, 'Fe (td)', fet_line, fet_circ, fet_sq, fet_dots, (-0.019, 0.481),
           [0, 0.1, 0.2, 0.3, 0.4], '{:.1f}')
draw_panel(2, 1, 'Hg', hg_line, hg_circ, hg_sq, hg_dots, (-0.28, 6.96), [0, 1, 2, 3, 4, 5, 6], '{:.0f}')
draw_panel(2, 2, 'Ni', ni_line, ni_circ, ni_sq, ni_dots, (-0.11, 2.72),
           [0, 0.5, 1.0, 1.5, 2.0, 2.5], '{:.1f}')
draw_panel(3, 0, 'Pb', pb_line, pb_circ, pb_sq, pb_dots, (-0.19, 4.70), [0, 1, 2, 3, 4], '{:.0f}')
draw_panel(3, 1, 'Zn', zn_line, zn_circ, zn_sq, zn_dots, (-0.29, 7.25), [0, 1, 2, 3, 4, 5, 6, 7], '{:.0f}')

# red highlight frames (left, top, right, bottom) in pixels
frames = [(584, 11, 1145, 284), (568, 294, 1129, 565), (1144, 294, 1695, 565),
          (584, 579, 1142, 847), (1145, 579, 1695, 847)]
for l, t, r, b in frames:
    fig.add_artist(Rectangle((l / W, 1 - b / H), (r - l) / W, (b - t) / H, transform=fig.transFigure,
                             fill=False, edgecolor='#c00000', lw=3.3, zorder=10))

# sliver of a blue logo cut off at the top edge
fig.add_artist(Ellipse((658 / W, 1 + 12 / H), 66 / W, 30 / H, transform=fig.transFigure,
                       color='#1f6f96', zorder=10))

fig.savefig('out.png', dpi=100)
